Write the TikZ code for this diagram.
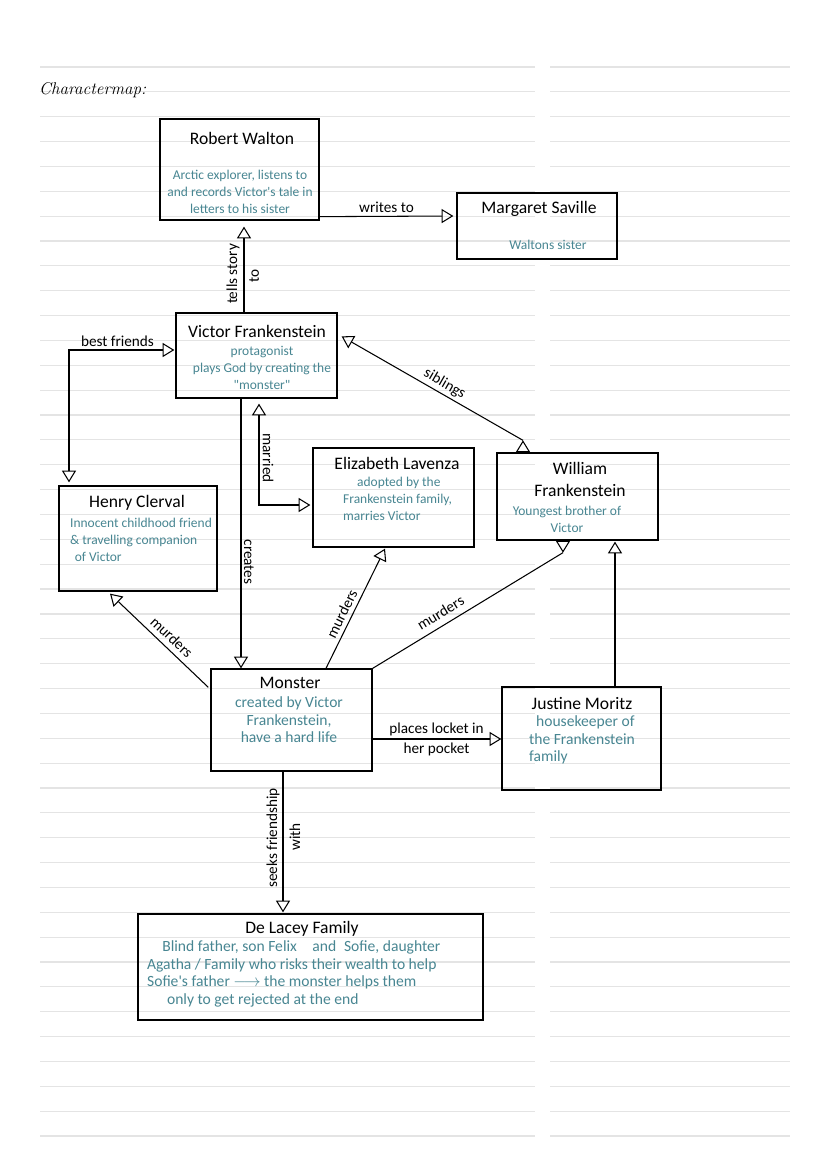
\documentclass[tikz,border=0pt]{standalone}
\usepackage{fontspec}
\newfontfamily\hand{Carlito}
\usetikzlibrary{arrows.meta,calc}
\definecolor{ink}{RGB}{72,134,146}
\definecolor{paperline}{RGB}{228,228,228}
\tikzset{
	person/.style={draw,line width=1.1pt,inner sep=0pt},
	who/.style={font=\hand\fontsize{15}{19.5}\selectfont,align=center},
	about/.style={font=\hand\fontsize{11.5}{14.5}\selectfont,text=ink,align=center},
	bigabout/.style={about,font=\hand\fontsize{13.3}{15}\selectfont},
	tag/.style={font=\hand\fontsize{13}{15}\selectfont,inner sep=2.5pt},
	opentri/.tip={Triangle[open,length=10pt,width=12pt]},
	rel/.style={line width=0.9pt,-opentri},
	both/.style={line width=0.9pt,opentri-opentri},
}
\begin{document}
\begin{tikzpicture}[x=0.03cm,y=-0.03cm]
	\fill[white] (0,0) rectangle (828,1171);
	\foreach \k in {0,...,43}
		{\draw[paperline,line width=1pt] (40,{67+24.86*\k}) -- (535,{67+24.86*\k});
		 \draw[paperline,line width=1pt] (550,{67+24.86*\k}) -- (790,{67+24.86*\k});}
	\node[anchor=base west,font=\fontsize{14.5}{16}\selectfont\itshape] (title) at (35,94) {Charactermap:};

	\node[person,minimum width=4.77cm,minimum height=3.03cm] (walton) at (239.5,169.5) {};
	\node[who] (walton-name) at (242,138) {Robert Walton};
	\node[about] (walton-about) at (240,192) {Arctic explorer, listens to\\and records Victor's tale in\\letters to his sister};

	\node[person,minimum width=4.80cm,minimum height=1.98cm] (margaret) at (537,226) {};
	\node[who] (margaret-name) at (539,209) {Margaret Saville};
	\node[about] (margaret-about) at (548,245) {Waltons sister};

	\node[person,minimum width=4.83cm,minimum height=2.55cm] (victor) at (256.5,355.5) {};
	\node[who] (victor-name) at (257,331) {Victor Frankenstein};
	\node[about] (victor-about) at (262,367.5) {protagonist\\plays God by creating the\\"monster"};

	\node[person,minimum width=4.83cm,minimum height=2.97cm] (elizabeth) at (393.5,497.5) {};
	\node[who] (elizabeth-name) at (397,463) {Elizabeth Lavenza};
	\node[about,align=left,anchor=west] (elizabeth-about) at (339,499) {\hspace*{12pt}adopted by the\\Frankenstein family,\\marries Victor};

	\node[person,minimum width=4.83cm,minimum height=2.61cm] (william) at (577.5,496.5) {};
	\node[who] (william-name) at (580,479.5) {William\\Frankenstein};
	\node[about] (william-about) at (567,519) {Youngest brother of\\Victor};

	\node[person,minimum width=4.74cm,minimum height=3.15cm] (henry) at (138,538.5) {};
	\node[who] (henry-name) at (137,503) {Henry Clerval};
	\node[about,align=left,anchor=west] (henry-about) at (66,539.5) {Innocent childhood friend\\\& travelling companion\\\hspace*{4pt}of Victor};

	\node[person,minimum width=4.83cm,minimum height=3.06cm] (monster) at (291.5,720) {};
	\node[who] (monster-name) at (290,683) {Monster};
	\node[bigabout] (monster-about) at (289,720) {created by Victor\\Frankenstein,\\have a hard life};

	\node[person,minimum width=4.77cm,minimum height=3.09cm] (justine) at (581.5,738.5) {};
	\node[who] (justine-name) at (582,703) {Justine Moritz};
	\node[bigabout,align=left,anchor=west] (justine-about) at (525,740) {\hspace*{6pt}housekeeper of\\the Frankenstein\\family};

	\node[person,minimum width=10.35cm,minimum height=3.18cm] (delacey) at (310.5,967) {};
	\node[who] (delacey-name) at (302,929) {De Lacey Family};
	\node[bigabout,align=left,anchor=west] (delacey-about) at (143,974) {\hspace*{13pt}Blind father, son Felix\quad and\enspace Sofie, daughter\\Agatha / Family who risks their wealth to help\\Sofie's father {\normalfont$\longrightarrow$} the monster helps them\\\hspace*{17pt}only to get rejected at the end};

	\draw[rel] ($(walton.south east)+(0,-4)$) -- ($(margaret.west)+(-3,-10)$) node[midway,above,tag] {writes to};
	\draw[rel] ($(victor.north)+(-12.5,0)$) -- ($(walton.south)+(4.5,6)$);
	\node[tag,rotate=90] (tells-lbl) at (233,274) {tells story};
	\node[tag,rotate=90] (to-lbl) at (254,276) {to};
	\draw[both] ($(henry.north)+(-69,-3)$) |- ($(victor.west)+(-1,-5.5)$) node[pos=0.73,above,tag] {best friends};
	\coordinate (sibtip) at ($(william.north)+(-54.5,-12)$);
	\draw[line width=0.9pt,opentri-] ($(victor.north east)+(4,24)$) -- (sibtip) node[pos=0.54,sloped,above,tag] {siblings};
	\draw[rel] ($(william.north)+(-54.5,0)$) -- (sibtip);
	\draw[both] ($(victor.south)+(2.5,5)$) |- ($(elizabeth.west)+(-2,7.5)$);
	\node[tag,rotate=-90] (married-lbl) at (268,458) {married};
	\draw[rel] ($(victor.south)+(-15.5,0)$) -- ($(monster.north)+(-50.5,0)$);
	\node[tag,rotate=-90] (creates-lbl) at (249,562) {creates};
	\draw[rel] ($(monster.north west)+(-2,19)$) -- ($(henry.south)+(-28,2)$) node[pos=0.45,sloped,above=2pt,tag] {murders};
	\draw[rel] ($(monster.north)+(34.5,0)$) -- ($(elizabeth.south)+(-8.5,1)$) node[pos=0.42,sloped,above=1pt,tag] {murders};
	\coordinate (willtip) at ($(william.south)+(-14.5,12)$);
	\draw[line width=0.9pt] (monster.north east) -- (willtip) node[pos=0.39,sloped,above=3pt,tag] {murders};
	\draw[rel] ($(william.south)+(-14.5,0)$) -- (willtip);
	\draw[rel] ($(monster.east)+(-1,19)$) -- ($(justine.west)+(0,0.5)$) node[midway,above,tag] {places locket in} node[midway,below,tag] {her pocket};
	\draw[rel] ($(justine.north)+(33.5,0)$) -- ($(william.south)+(37.5,1)$);
	\draw[rel] ($(monster.south)+(-8.5,0)$) -- ($(delacey.north)+(-27.5,-1)$);
	\node[tag,rotate=90] (seeks-lbl) at (273,838) {seeks friendship};
	\node[tag,rotate=90] (with-lbl) at (295,837) {with};
\end{tikzpicture}
\end{document}
